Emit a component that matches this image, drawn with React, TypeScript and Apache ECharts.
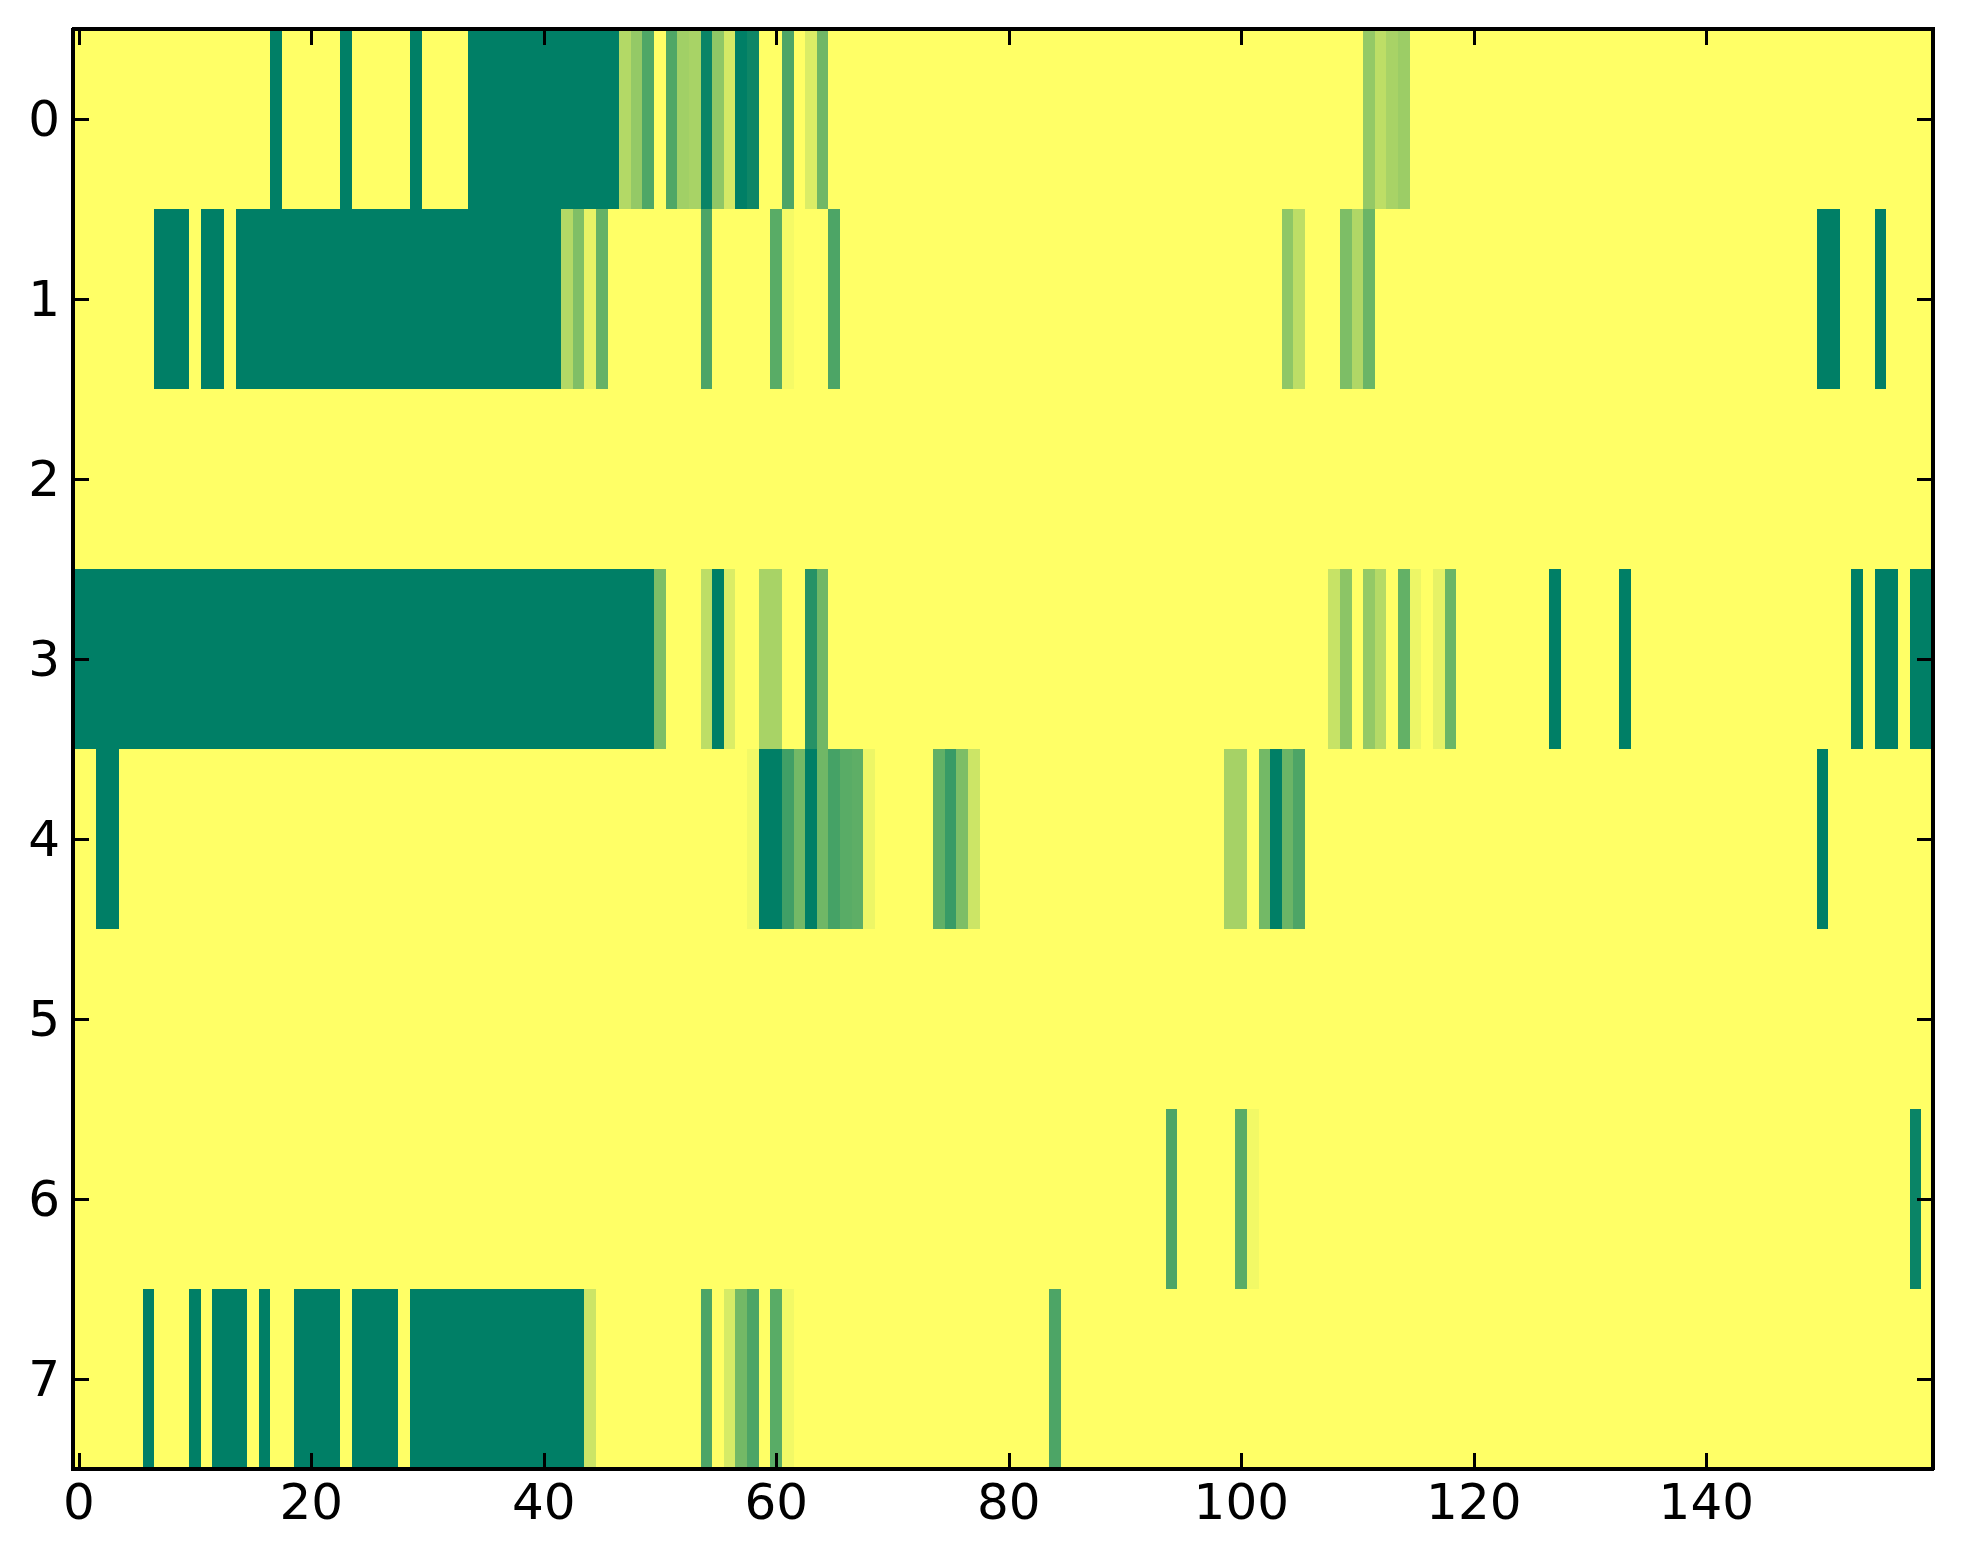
import React, { useEffect, useRef } from 'react';
import * as echarts from 'echarts';

const NUM_COLS = 160;
const rowLabels = ['0', '1', '2', '3', '4', '5', '6', '7'];
const xTickLabels = ['0', '20', '40', '60', '80', '100', '120', '140'];

// Non-zero cells of each row as runs: [firstColumn, lastColumn, value]
const row0: [number, number, number][] = [
  [17, 17, 1], [23, 23, 1], [29, 29, 1], [34, 46, 1],
  [47, 47, 0.3], [48, 48, 0.42], [49, 49, 0.69], [51, 51, 0.69], [52, 52, 0.37],
  [53, 53, 0.34], [54, 54, 0.96], [55, 55, 0.44], [56, 56, 0.17], [57, 57, 1],
  [58, 58, 0.945], [61, 61, 0.7], [63, 63, 0.14], [64, 64, 0.56],
  [111, 111, 0.42], [112, 112, 0.26], [113, 113, 0.34], [114, 114, 0.39],
];
const row1: [number, number, number][] = [
  [7, 9, 1], [11, 12, 1], [14, 41, 1],
  [42, 42, 0.3], [43, 43, 0.5], [44, 44, 0.09], [45, 45, 0.6],
  [54, 54, 0.7], [60, 60, 0.65], [61, 61, 0.04], [65, 65, 0.7],
  [104, 104, 0.44], [105, 105, 0.26], [109, 109, 0.51], [110, 110, 0.31], [111, 111, 0.58],
  [150, 151, 1], [155, 155, 1],
];
const row2: [number, number, number][] = [];
const row3: [number, number, number][] = [
  [0, 49, 1], [50, 50, 0.51], [54, 54, 0.26], [55, 55, 1], [56, 56, 0.14],
  [59, 60, 0.34], [63, 63, 0.85], [64, 64, 0.56],
  [108, 108, 0.22], [109, 109, 0.45], [111, 111, 0.42], [112, 112, 0.29],
  [114, 114, 0.61], [115, 115, 0.07], [117, 117, 0.1], [118, 118, 0.58],
  [127, 127, 1], [133, 133, 1], [153, 153, 1], [155, 156, 1], [158, 159, 1],
];
const row4: [number, number, number][] = [
  [2, 3, 1], [58, 58, 0.05], [59, 60, 1], [61, 61, 0.75], [62, 62, 0.55], [63, 63, 1],
  [64, 64, 0.56], [65, 65, 0.73], [66, 66, 0.65], [67, 67, 0.63], [68, 68, 0.07],
  [74, 74, 0.62], [75, 75, 0.78], [76, 76, 0.51], [77, 77, 0.2],
  [99, 100, 0.35], [102, 102, 0.55], [103, 103, 1], [104, 104, 0.58], [105, 105, 0.7],
  [150, 150, 1],
];
const row5: [number, number, number][] = [];
const row6: [number, number, number][] = [
  [94, 94, 0.7], [100, 100, 0.65], [101, 101, 0.05], [158, 158, 0.96],
];
const row7: [number, number, number][] = [
  [6, 6, 1], [10, 10, 1], [12, 14, 1], [16, 16, 1], [19, 22, 1], [24, 27, 1], [29, 43, 1],
  [44, 44, 0.2], [54, 54, 0.7], [56, 56, 0.16], [57, 57, 0.55], [58, 58, 0.7],
  [60, 60, 0.65], [61, 61, 0.05], [84, 84, 0.7],
];

const rows = [row0, row1, row2, row3, row4, row5, row6, row7];

function buildData(): [number, number, number][] {
  const out: [number, number, number][] = [];
  rows.forEach((runs, r) => {
    const vals = new Array(NUM_COLS).fill(0);
    runs.forEach(([a, b, v]) => {
      for (let c = a; c <= b; c++) vals[c] = v;
    });
    vals.forEach((v, c) => out.push([c, r, v]));
  });
  return out;
}

const FONT = 'DejaVu Sans';

export default function App() {
  const ref = useRef<HTMLDivElement>(null);
  useEffect(() => {
    if (!ref.current) return;
    const chart = echarts.init(ref.current, undefined, { renderer: 'svg' });
    const xCats = Array.from({ length: NUM_COLS }, (_, i) => String(i));
    const showX = (i: number) => xTickLabels.includes(String(i));
    const lineStyle = { color: '#000', width: 4 };
    const tickStyle = { color: '#000', width: 2.5 };
    const baseX = {
      type: 'category',
      data: xCats,
      boundaryGap: true,
      z: 10,
      axisLine: { show: true, lineStyle, onZero: false },
      axisTick: { show: true, inside: true, length: 16, alignWithLabel: true, interval: showX, lineStyle: tickStyle },
      splitLine: { show: false },
      splitArea: { show: false },
    };
    const baseY = {
      type: 'category',
      data: rowLabels,
      inverse: true,
      boundaryGap: true,
      z: 10,
      axisLine: { show: true, lineStyle, onZero: false },
      axisTick: { show: true, inside: true, length: 16, alignWithLabel: true, interval: 0, lineStyle: tickStyle },
      splitLine: { show: false },
      splitArea: { show: false },
    };
    chart.setOption({
      animation: false,
      backgroundColor: '#ffffff',
      grid: { left: 73, top: 29, width: 1860, height: 1440, containLabel: false },
      xAxis: [
        {
          ...baseX,
          position: 'bottom',
          axisLabel: { show: true, interval: showX, color: '#000', fontSize: 50, fontFamily: FONT, margin: 8 },
        },
        { ...baseX, position: 'top', axisLabel: { show: false } },
      ],
      yAxis: [
        {
          ...baseY,
          position: 'left',
          axisLabel: { show: true, interval: 0, color: '#000', fontSize: 50, fontFamily: FONT, margin: 13 },
        },
        { ...baseY, position: 'right', axisLabel: { show: false } },
      ],
      visualMap: {
        show: false,
        type: 'continuous',
        min: 0,
        max: 1,
        dimension: 2,
        seriesIndex: 0,
        inRange: { color: ['#ffff66', '#007f66'] },
      },
      series: [
        {
          type: 'heatmap',
          xAxisIndex: 0,
          yAxisIndex: 0,
          data: buildData(),
          progressive: 0,
          itemStyle: { borderWidth: 0 },
          emphasis: { disabled: true },
          label: { show: false },
        },
      ],
    });
    return () => chart.dispose();
  }, []);
  return (
    <>
      <style>{'#heatmap-chart path { shape-rendering: crispEdges; }'}</style>
      <div
        id="heatmap-chart"
        ref={ref}
        style={{ position: 'absolute', left: 0, top: 0, width: 1963, height: 1564, background: '#fff' }}
      />
    </>
  );
}
